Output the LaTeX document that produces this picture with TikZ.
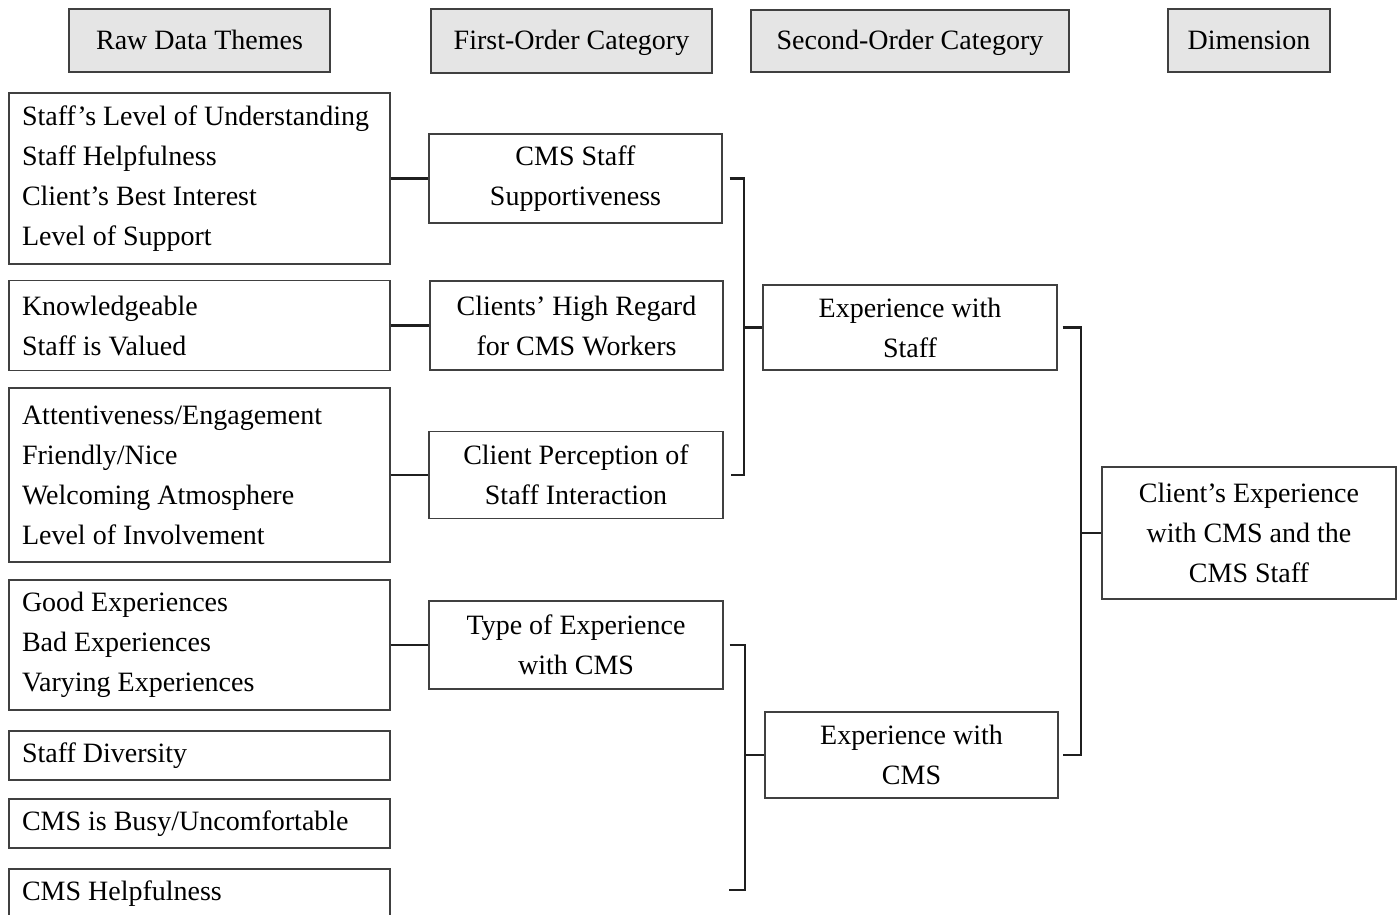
\documentclass[tikz,border=0pt]{standalone}
\usepackage{fontspec}
\setmainfont{Liberation Serif}
\begin{document}
\begin{tikzpicture}[x=1pt,y=-1pt,
  box/.style={draw=black!75, line width=1.2pt, inner sep=0pt, align=center,
    font=\fontsize{28}{40}\selectfont},
  head/.style={box, fill=black!10, text height=19pt, text depth=1pt},
  raw/.style={box, minimum width=381pt, text width=355pt, inner xsep=13pt, align=flush left},
  link/.style={draw=black!88, line width=2.2pt},
  bracket/.style={link, line cap=butt}]
\useasboundingbox (0,0) rectangle (1398,915);

% column headings
\node[head, minimum width=261pt, minimum height=63pt] (h1) at (199.5,40.5) {Raw Data Themes};
\node[head, minimum width=281pt, minimum height=64pt] (h2) at (571.5,41) {First-Order Category};
\node[head, minimum width=318pt, minimum height=62pt] (h3) at (910,41) {Second-Order Category};
\node[head, minimum width=162pt, minimum height=63pt] (h4) at (1249,40.5) {Dimension};

% raw data themes
\node[raw, minimum height=171pt] (r1) at (199.5,178.5) {Staff’s Level of Understanding\\Staff Helpfulness\\Client’s Best Interest\\Level of Support};
\node[raw, minimum height=90pt] (r2) at (199.5,325.5) {Knowledgeable\\Staff is Valued};
\node[raw, minimum height=174pt] (r3) at (199.5,475) {Attentiveness/Engagement\\Friendly/Nice\\Welcoming Atmosphere\\Level of Involvement};
\node[raw, minimum height=130pt] (r4) at (199.5,645) {Good Experiences\\Bad Experiences\\Varying Experiences};
\node[raw, minimum height=49pt] (r5) at (199.5,755.5) {Staff Diversity};
\node[raw, minimum height=49pt] (r6) at (199.5,823.5) {CMS is Busy/Uncomfortable};
\node[raw, minimum height=49pt] (r7) at (199.5,893.5) {CMS Helpfulness};

% first-order categories
\node[box, minimum width=293pt, minimum height=89pt] (f1) at (575.5,178.5) {CMS Staff\\Supportiveness};
\node[box, minimum width=293pt, minimum height=89pt] (f2) at (576.5,325.5) {Clients’ High Regard\\for CMS Workers};
\node[box, minimum width=294pt, minimum height=87pt] (f3) at (576,475) {Client Perception of\\Staff Interaction};
\node[box, minimum width=294pt, minimum height=88pt] (f4) at (576,645) {Type of Experience\\with CMS};

% second-order categories
\node[box, minimum width=294pt, minimum height=85pt] (s1) at (910,327.5) {Experience with\\Staff};
\node[box, minimum width=293pt, minimum height=86pt] (s2) at (911.5,755) {Experience with\\CMS};

% dimension
\node[box, minimum width=294pt, minimum height=132pt] (d) at (1249,533) {Client’s Experience\\with CMS and the\\CMS Staff};

% raw themes to first-order categories
\draw[link] (r1.east) -- (f1.west);
\draw[link] (r2.east) -- (f2.west);
\draw[link] (r3.east) -- (f3.west);
\draw[link] (r4.east) -- (f4.west);

% first-order to second-order brackets
\coordinate (b1) at (744,327.5);
\draw[bracket] ([xshift=7pt]f1.east) -| (b1) |- ([xshift=7pt]f3.east);
\draw[link] (b1) -- (s1.west);

\coordinate (b2) at (745,755);
\coordinate (e2) at (729,890);
\draw[bracket] ([xshift=6pt]f4.east) -| (b2) |- (e2);
\draw[link] (b2) -- (s2.west);

% second-order to dimension bracket
\coordinate (b3) at (1081,533);
\draw[bracket] ([xshift=5pt]s1.east) -| (b3) |- ([xshift=4pt]s2.east);
\draw[link] (b3) -- (d.west);
\end{tikzpicture}
\end{document}
